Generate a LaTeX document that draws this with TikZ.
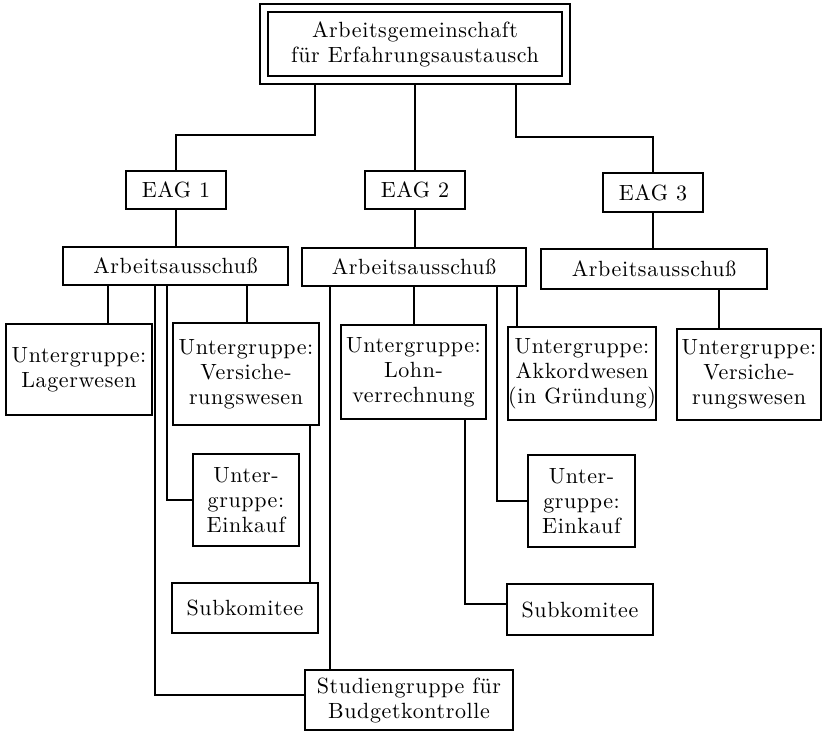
\documentclass[tikz,border=0pt]{standalone}
\usepackage{fontspec}
\setmainfont{lmroman10-regular.otf}[LetterSpace=2.8]
\usepackage{tikz}
\usetikzlibrary{positioning}

\begin{document}
\begin{tikzpicture}[x=0.5pt,y=-0.5pt,
  box/.style={draw,line width=1pt,align=center,inner sep=0pt,
    font=\fontsize{11}{12.5}\selectfont},
  headbox/.style={box,double,double distance=3pt,outer sep=2.5pt},
  conn/.style={line width=1pt}]
\useasboundingbox (0,0) rectangle (822,732);

% head
\node[headbox,minimum width=151pt,minimum height=36pt] (aef) at (415,44.5)
  {Arbeitsgemeinschaft\\f\"ur Erfahrungsaustausch};

% EAG row
\node[box,minimum width=50pt,minimum height=19pt] (eag1) at (176,190) {EAG 1};
\node[box,minimum width=50pt,minimum height=19pt] (eag2) at (415,190) {EAG 2};
\node[box,minimum width=50pt,minimum height=19.5pt] (eag3) at (653,192.5) {EAG 3};

% Arbeitsausschuss row
\node[box,minimum width=112.5pt,minimum height=19pt] (aa1) at (175.5,266) {Arbeitsausschuß};
\node[box,minimum width=112pt,minimum height=19pt] (aa2) at (414,267) {Arbeitsausschuß};
\node[box,minimum width=113pt,minimum height=19.5pt] (aa3) at (654,269) {Arbeitsausschuß};

% Untergruppen
\node[box,minimum width=73pt,minimum height=45.5pt] (lager) at (79,369.5) {Untergruppe:\\Lagerwesen};
\node[box,minimum width=73pt,minimum height=51pt] (vers1) at (246,374) {Untergruppe:\\Versiche-\\rungswesen};
\node[box,minimum width=72.5pt,minimum height=47pt] (lohn) at (413.5,372) {Untergruppe:\\Lohn-\\verrechnung};
\node[box,minimum width=73pt,minimum height=46.5pt] (akkord) at (582,373.5) {Untergruppe:\\Akkordwesen\\(in Gründung)};
\node[box,minimum width=72pt,minimum height=45.5pt] (vers2) at (749,374.5) {Untergruppe:\\Versiche-\\rungswesen};

\node[box,minimum width=53pt,minimum height=46pt] (eink1) at (246,500) {Unter-\\gruppe:\\Einkauf};
\node[box,minimum width=53.5pt,minimum height=46pt] (eink2) at (581.5,501) {Unter-\\gruppe:\\Einkauf};
\node[box,minimum width=73pt,minimum height=25pt] (sub1) at (245,608) {Subkomitee};
\node[box,minimum width=73pt,minimum height=25.5pt] (sub2) at (580,609.5) {Subkomitee};
\node[box,minimum width=104pt,minimum height=30pt] (stud) at (409,700) {Studiengruppe für\\Budgetkontrolle};

% head to EAG
\draw[conn] ([xshift=-50pt]aef.south) -- ++(0,-25pt) -| (eag1.north);
\draw[conn] (aef.south) -- (eag2.north);
\draw[conn] ([xshift=50.5pt]aef.south) -- ++(0,-26pt) -| (eag3.north);

% EAG to Arbeitsausschuss
\foreach \n in {1,2,3} {
  \draw[conn] (eag\n.south) -- (eag\n.south |- aa\n.north);
}

% straight drops
\foreach \from/\to/\dx in {aa1/lager/14.5pt,aa1/vers1/0.5pt,aa2/lohn/0pt,aa2/akkord/-32.5pt,aa3/vers2/-15pt,vers1/sub1/32.5pt,aa2/stud/-39.5pt} {
  \coordinate (p) at ([xshift=\dx]\to.north);
  \draw[conn] (p |- \from.south) -- (p);
}

% elbows
\draw[conn] ([xshift=-4.25pt]aa1.south) |- (eink1.west);
\draw[conn] ([xshift=-10.25pt]aa1.south) |- ([yshift=2.5pt]stud.west);
\draw[conn] ([xshift=41.5pt]aa2.south) |- (eink2.west);
\draw[conn] ([xshift=25.75pt]lohn.south) |- ([yshift=2.75pt]sub2.west);
\end{tikzpicture}
\end{document}
